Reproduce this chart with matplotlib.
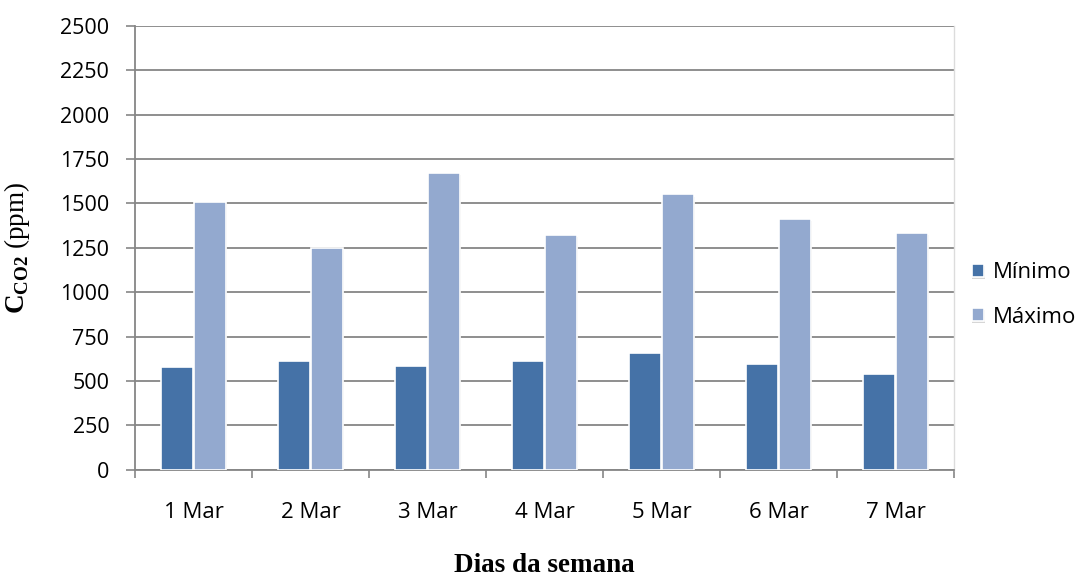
import matplotlib
matplotlib.use("Agg")
import matplotlib.pyplot as plt
import matplotlib.patheffects as pe
import numpy as np

days = ["1 Mar", "2 Mar", "3 Mar", "4 Mar", "5 Mar", "6 Mar", "7 Mar"]
minimo = [577, 612, 587, 610, 655, 595, 538]
maximo = [1506, 1247, 1672, 1324, 1551, 1411, 1332]
yticks = [0, 250, 500, 750, 1000, 1250, 1500, 1750, 2000, 2250, 2500]

plt.rcParams["mathtext.fontset"] = "custom"
plt.rcParams["mathtext.rm"] = "Liberation Serif"
plt.rcParams["mathtext.bf"] = "Liberation Serif:bold"

W, H = 1083, 576
fig = plt.figure(figsize=(W / 100, H / 100), dpi=100)
ax = fig.add_axes([135 / W, 1 - 469.7 / H, (954 - 135) / W, (469.7 - 26) / H])

x = np.arange(len(days))
w = 0.28
off = 0.142
shadow = [pe.SimplePatchShadow(offset=(0.5, -1.5), shadow_rgbFace="#8a8a8a", alpha=0.35), pe.Normal()]

b1 = ax.bar(x - off, minimo, w, color="#4572A7", edgecolor="white", linewidth=1.2,
            label="Mínimo", zorder=3)
b2 = ax.bar(x + off, maximo, w, color="#93A9CF", edgecolor="white", linewidth=1.2,
            label="Máximo", zorder=3)
for b in list(b1) + list(b2):
    b.set_path_effects(shadow)

ax.set_xlim(-0.5, len(days) - 0.5)
ax.set_ylim(0, 2500)
ax.set_yticks(yticks)
ax.set_yticklabels([str(v) for v in yticks], fontfamily="Open Sans", fontsize=15.5)
ax.yaxis.grid(True, color="#868686", linewidth=1.3, zorder=0)
ax.set_axisbelow(True)

ax.set_xticks(x)
ax.set_xticklabels(days, fontfamily="Open Sans", fontsize=16)
ax.tick_params(axis="x", length=0, pad=23)
ax.set_xticks(np.arange(-0.5, len(days), 1.0), minor=True)
ax.tick_params(axis="x", which="minor", length=6, width=1.2, color="#868686", direction="out")
ax.tick_params(axis="y", length=6.5, width=1.2, color="#868686", direction="out", pad=12)

for s in ["left", "bottom"]:
    ax.spines[s].set_color("#868686")
    ax.spines[s].set_linewidth(1.3)
ax.spines["top"].set_visible(False)
ax.spines["right"].set_color("#dcdcdc")
ax.spines["right"].set_linewidth(1.0)

fig.text(544 / W, 4 / H, "Dias da semana", fontfamily="Liberation Serif",
         fontweight="bold", fontsize=19.5, ha="center", va="baseline")
fig.text(17 / W, 1 - 248 / H, r"$\mathbf{C}_{\mathbf{CO2}}$ (ppm)",
         fontfamily="Liberation Serif", fontsize=19.5, rotation=90,
         ha="center", va="center")

leg = ax.legend(loc="center left", bbox_to_anchor=(1.0, 0.394), frameon=False,
                prop={"family": "Open Sans", "size": 16}, handlelength=0.55,
                handleheight=0.55, handletextpad=0.4, labelspacing=1.05,
                borderaxespad=0.4)

fig.savefig("out.png", dpi=100)
